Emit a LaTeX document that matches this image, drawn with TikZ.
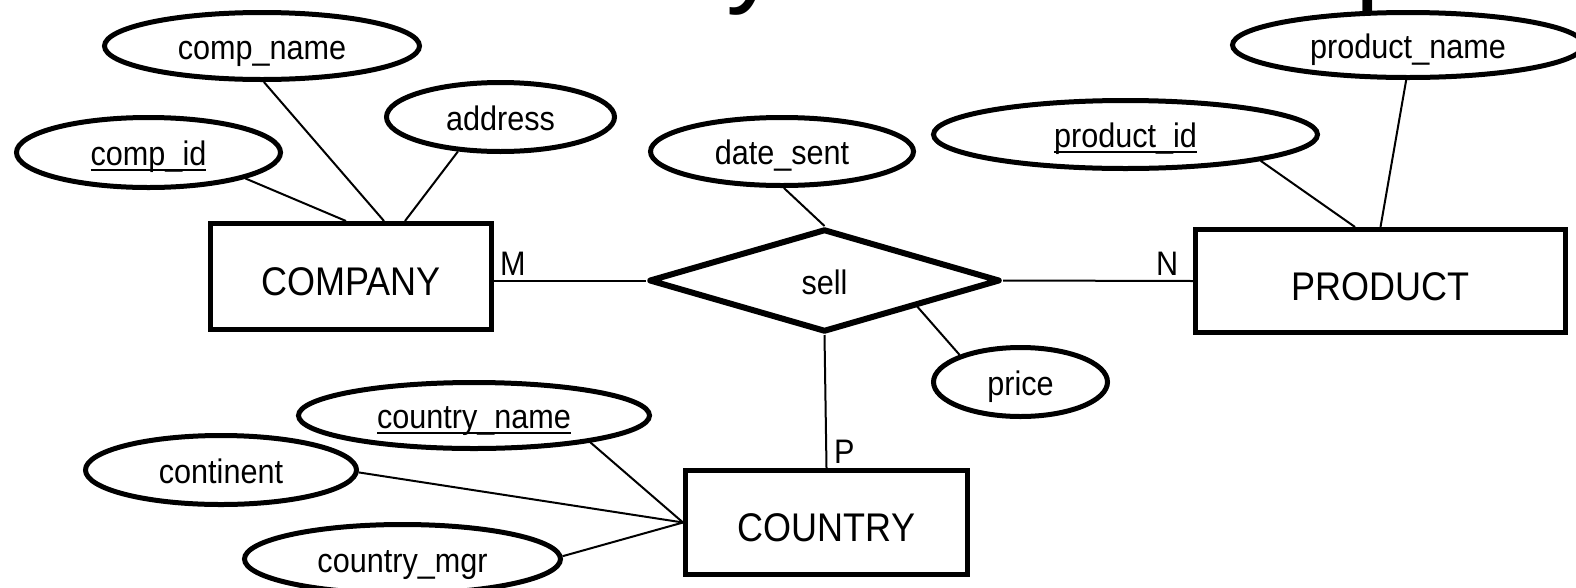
\documentclass[tikz,border=0pt]{standalone}
\usepackage{fontspec}
\setmainfont{Liberation Sans}[FakeStretch=0.9]
\newfontfamily\titlefont{Liberation Sans}[Kerning=Off]
\usetikzlibrary{shapes.geometric,calc}

% key attributes: text with a rule just below the baseline
\newsavebox\keybox
\newcommand\keyattr[1]{\sbox\keybox{#1}\rlap{\rule[-5pt]{\wd\keybox}{2pt}}\usebox\keybox}

\begin{document}
\begin{tikzpicture}[x=1pt,y=-1pt,
  attr/.style={ellipse, draw, line width=5pt, inner sep=0pt,
    text height=26pt, text depth=0pt, font=\fontsize{34}{40}\selectfont},
  entity/.style={rectangle, draw, line width=5pt, inner sep=0pt,
    text height=38pt, text depth=0pt, font=\fontsize{40}{48}\selectfont},
  rel/.style={diamond, draw, line width=6pt, line join=round, inner sep=0pt,
    text height=28pt, text depth=0pt, font=\fontsize{34}{40}\selectfont},
  link/.style={line width=2pt},
  card/.style={anchor=base west, inner sep=0pt, font=\fontsize{34}{40}\selectfont}]

\useasboundingbox (0,0) rectangle (1576,587);
\clip (0,0) rectangle (1576,587);

% slide title (mostly above the visible area)
\node[anchor=base west, inner sep=0pt, font=\titlefont\fontsize{110}{120}\selectfont]
  (title) at (402,-8) {Ternary Relationship};

% entities and relationship
\node[entity, minimum width=281pt, minimum height=106pt] (company) at (351,276.5) {COMPANY};
\node[entity, minimum width=370pt, minimum height=103pt] (product) at (1380.5,281) {PRODUCT};
\node[entity, minimum width=282pt, minimum height=104pt] (country) at (826.5,522.5) {COUNTRY};
\node[rel, minimum width=351pt, minimum height=103pt] (sell) at (824.5,280.5) {sell};

% attributes
\node[attr, minimum width=315pt, minimum height=67pt] (cname) at (262,46) {comp\_name};
\node[attr, minimum width=264pt, minimum height=70pt] (cid) at (148.5,152.5) {\keyattr{comp\_id}};
\node[attr, minimum width=228pt, minimum height=69pt] (addr) at (500.5,117) {address};
\node[attr, minimum width=263pt, minimum height=68pt] (date) at (782,151.5) {date\_sent};
\node[attr, minimum width=384pt, minimum height=68pt] (pid) at (1125.5,134.5) {\keyattr{product\_id}};
\node[attr, minimum width=351pt, minimum height=65pt] (pname) at (1408,45) {product\_name};
\node[attr, minimum width=174pt, minimum height=69pt] (price) at (1020.5,382) {price};
\node[attr, minimum width=351pt, minimum height=66pt] (ctyname) at (474,415.5) {\keyattr{country\_name}};
\node[attr, minimum width=271pt, minimum height=69pt] (cont) at (221,470) {continent};
\node[attr, minimum width=316pt, minimum height=69pt] (mgr) at (402.5,559) {country\_mgr};

% attribute links
\draw[link] (cid.-15.6) -- ($(company.north)+(-5,0)$);
\draw[link] (cname.-87) -- ($(company.north)+(33,0)$);
\draw[link] (addr.-141) -- ($(company.north)+(54,0)$);
\draw[link] (date.-87) -- (sell.north);
\draw[link] ($(sell.south)!0.52!(sell.east)$) -- (price.156.5);
\draw[link] (pid.-11.5) -- ($(product.north)+(-25.5,0)$);
\draw[link] (pname.-93) -- (product.north);
\draw[link] (ctyname.-13) -- (country.west);
\draw[link] (cont.-1) -- (country.west);
\draw[link] (mgr.1) -- (country.west);

% relationship links
\draw[link] (company.east |- sell.west) -- (sell.west);
\draw[link] (sell.east) -- (product.west);
\draw[link] (sell.south) -- (country.north);

% cardinalities
\node[card] (m) at (500,275) {M};
\node[card] (n) at (1156,275) {N};
\node[card] (p) at (834,463) {P};
\end{tikzpicture}
\end{document}
